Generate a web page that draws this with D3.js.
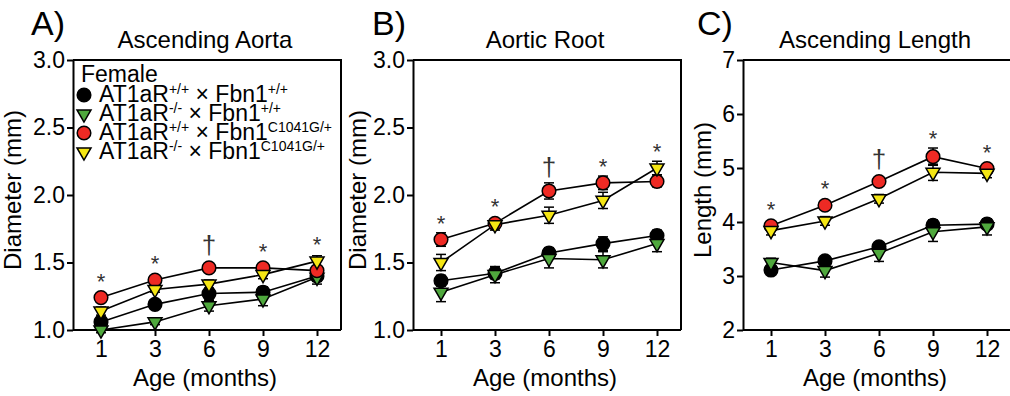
<!DOCTYPE html>
<html>
<head>
<meta charset="utf-8">
<script src="https://cdn.jsdelivr.net/npm/d3@7"></script>
<style>
  body { margin: 0; background: #fff; }
  svg { display: block; font-family: Arial, "Liberation Sans", sans-serif; }
</style>
</head>
<body>
<svg id="chart" width="1010" height="396"></svg>
<script>
// ---- data ----
const ages = ["1", "3", "6", "9", "12"];
const sigMarks = ["*", "*", "\u2020", "*", "*"];

// group order: AT1aR+/+ x Fbn1+/+, AT1aR-/- x Fbn1+/+, AT1aR+/+ x Fbn1C1041G/+, AT1aR-/- x Fbn1C1041G/+
const groupAt1 = ["+/+", "-/-", "+/+", "-/-"];
const groupFbn = ["+/+", "+/+", "C1041G/+", "C1041G/+"];
const groupColors = ["#000000", "#4fa83d", "#ee2a24", "#f5e614"];
const groupShapes = ["circle", "triangle", "circle", "triangle"];

const aortaMean = [
  [1.06, 1.19, 1.27, 1.28, 1.40],
  [1.00, 1.06, 1.18, 1.23, 1.39],
  [1.24, 1.37, 1.46, 1.46, 1.44],
  [1.14, 1.30, 1.34, 1.41, 1.51]
];
const aortaSem = [
  [0.03, 0.03, 0.04, 0.04, 0.04],
  [0.02, 0.02, 0.04, 0.05, 0.05],
  [0.02, 0.02, 0.02, 0.03, 0.03],
  [0.03, 0.02, 0.03, 0.03, 0.04]
];

const rootMean = [
  [1.365, 1.42, 1.57, 1.64, 1.70],
  [1.28, 1.41, 1.53, 1.52, 1.64],
  [1.67, 1.79, 2.03, 2.09, 2.10],
  [1.50, 1.78, 1.85, 1.96, 2.20]
];
const rootSem = [
  [0.04, 0.04, 0.04, 0.05, 0.04],
  [0.07, 0.06, 0.07, 0.06, 0.06],
  [0.05, 0.03, 0.06, 0.05, 0.04],
  [0.06, 0.04, 0.06, 0.06, 0.05]
];

const lengthMean = [
  [3.11, 3.28, 3.54, 3.94, 3.96],
  [3.25, 3.10, 3.42, 3.82, 3.91],
  [3.93, 4.31, 4.75, 5.21, 4.99],
  [3.84, 4.02, 4.43, 4.92, 4.90]
];
const lengthSem = [
  [0.05, 0.06, 0.06, 0.10, 0.06],
  [0.08, 0.12, 0.15, 0.18, 0.15],
  [0.06, 0.06, 0.07, 0.16, 0.07],
  [0.08, 0.08, 0.08, 0.15, 0.08]
];

const aortaTicks = [1.0, 1.5, 2.0, 2.5, 3.0];
const rootTicks = [1.0, 1.5, 2.0, 2.5, 3.0];
const lengthTicks = [2, 3, 4, 5, 6, 7];

// ---- layout ----
const svg = d3.select("#chart");
const plotTop = 60, plotBottom = 330, plotW = 268;

function marker(sel, shape, color) {
  if (shape === "circle") {
    sel.append("circle").attr("r", 6.8)
      .attr("fill", color).attr("stroke", "#000").attr("stroke-width", 1.5);
  } else {
    sel.append("path")
      .attr("d", d3.symbol(d3.symbolTriangle, 85)())
      .attr("transform", "rotate(180)")
      .attr("fill", color).attr("stroke", "#000").attr("stroke-width", 1.5);
  }
}

function drawPanel(p) {
  const g = svg.append("g");
  const x = d3.scalePoint().domain(ages).range([p.left + 28, p.left + 244]);
  const y = d3.scaleLinear().domain([p.ticks[0], p.ticks[p.ticks.length - 1]]).range([plotBottom, plotTop]);

  // frame
  g.append("path")
    .attr("d", `M${p.left},${plotTop}H${p.left + plotW}V${plotBottom}`)
    .attr("fill", "none").attr("stroke", "#000").attr("stroke-width", 2);

  const yAxis = g.append("g").attr("transform", `translate(${p.left},0)`)
    .call(d3.axisLeft(y).tickValues(p.ticks).tickFormat(p.fmt).tickSize(6).tickSizeOuter(0).tickPadding(2));
  const xAxis = g.append("g").attr("transform", `translate(0,${plotBottom})`)
    .call(d3.axisBottom(x).tickSize(6).tickSizeOuter(0).tickPadding(5));
  xAxis.select(".domain").attr("d", `M${p.left},0H${p.left + plotW}`);
  [yAxis, xAxis].forEach(a => {
    a.selectAll(".domain, line").attr("stroke", "#000").attr("stroke-width", 2);
    a.selectAll("text").attr("font-size", 23).attr("fill", "#000").attr("font-family", null);
  });

  // titles
  g.append("text").attr("x", p.letterX).attr("y", 35).attr("font-size", 34).text(p.letter);
  g.append("text").attr("x", p.left + plotW / 2 - 2).attr("y", 48)
    .attr("text-anchor", "middle").attr("font-size", 24).text(p.title);
  g.append("text").attr("x", p.left + plotW / 2 - 2).attr("y", 386)
    .attr("text-anchor", "middle").attr("font-size", 24).text("Age (months)");
  g.append("text")
    .attr("transform", `translate(${p.yLabelX},${(plotTop + plotBottom) / 2 - 5}) rotate(-90)`)
    .attr("text-anchor", "middle").attr("font-size", 24).text(p.yLabel);

  // error bars and lines
  p.mean.forEach((vals, s) => {
    const eb = g.append("g").attr("stroke", "#000").attr("stroke-width", 1.5);
    vals.forEach((v, i) => {
      const cx = x(ages[i]), e = p.sem[s][i];
      eb.append("line").attr("x1", cx).attr("x2", cx).attr("y1", y(v - e)).attr("y2", y(v + e));
      [v - e, v + e].forEach(t => eb.append("line")
        .attr("x1", cx - 5).attr("x2", cx + 5).attr("y1", y(t)).attr("y2", y(t)));
    });
    g.append("path")
      .attr("d", d3.line().x((d, i) => x(ages[i])).y(d => y(d))(vals))
      .attr("fill", "none").attr("stroke", "#000").attr("stroke-width", 1.6);
  });

  // markers
  p.mean.forEach((vals, s) => {
    vals.forEach((v, i) => {
      const m = g.append("g").attr("transform", `translate(${x(ages[i])},${y(v)})`);
      marker(m, groupShapes[s], groupColors[s]);
    });
  });

  // significance marks
  ages.forEach((a, i) => {
    const yTop = d3.min(p.mean, (vals, s) => Math.min(y(vals[i] + p.sem[s][i]), y(vals[i]) - 7));
    const isDagger = sigMarks[i] !== "*";
    g.append("text").attr("x", x(a)).attr("y", isDagger ? yTop - 7 : yTop - 2)
      .attr("text-anchor", "middle").attr("font-size", isDagger ? 26 : 22)
      .attr("fill", "#333").text(sigMarks[i]);
  });
  return g;
}

drawPanel({ left: 73, letter: "A)", letterX: 31, title: "Ascending Aorta", yLabel: "Diameter (mm)", yLabelX: 21,
  ticks: aortaTicks, fmt: d3.format(".1f"), mean: aortaMean, sem: aortaSem });
drawPanel({ left: 413, letter: "B)", letterX: 372, title: "Aortic Root", yLabel: "Diameter (mm)", yLabelX: 366,
  ticks: rootTicks, fmt: d3.format(".1f"), mean: rootMean, sem: rootSem });
drawPanel({ left: 743, letter: "C)", letterX: 697, title: "Ascending Length", yLabel: "Length (mm)", yLabelX: 711,
  ticks: lengthTicks, fmt: d3.format("d"), mean: lengthMean, sem: lengthSem });

// legend (panel A)
const lg = svg.append("g");
lg.append("text").attr("x", 81).attr("y", 82).attr("font-size", 23).text("Female");
groupAt1.forEach((a, i) => {
  const yb = 102 + i * 19;
  const m = lg.append("g").attr("transform", `translate(84,${yb - 7})`);
  marker(m, groupShapes[i], groupColors[i]);
  const t = lg.append("text").attr("x", 99).attr("y", yb).attr("font-size", 23);
  t.append("tspan").text("AT1aR");
  t.append("tspan").attr("font-size", 14).attr("dy", -8).text(a);
  t.append("tspan").attr("dy", 8).text(" \u00d7 Fbn1");
  t.append("tspan").attr("font-size", 14).attr("dy", -8).text(groupFbn[i]);
});
</script>
</body>
</html>
